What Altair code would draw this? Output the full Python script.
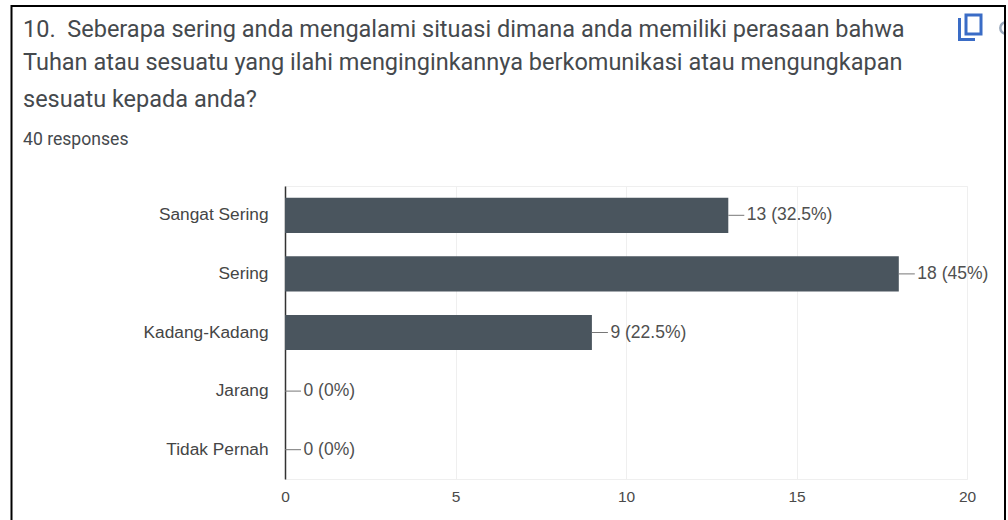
import altair as alt
import pandas as pd

categories = ["Sangat Sering", "Sering", "Kadang-Kadang", "Jarang", "Tidak Pernah"]
counts = [13, 18, 9, 0, 0]
value_labels = ["13 (32.5%)", "18 (45%)", "9 (22.5%)", "0 (0%)", "0 (0%)"]
x_ticks = [0, 5, 10, 15, 20]
question_lines = [
    "10.\u00a0 Seberapa sering anda mengalami situasi dimana anda memiliki perasaan bahwa",
    "Tuhan atau sesuatu yang ilahi menginginkannya berkomunikasi atau mengungkapan",
    "sesuatu kepada anda?",
]
question_baselines = [37, 70, 107]
response_note = "40 responses"

# Page-level offsets relative to the plot area
LEFT, TOP, W, H = 285, 186, 682, 293

df = pd.DataFrame({"cat": categories, "count": counts, "label": value_labels})

x_enc = alt.X(
    "count:Q",
    scale=alt.Scale(domain=[0, 20], nice=False),
    axis=alt.Axis(
        values=x_ticks, title=None, domain=False, ticks=False, labelPadding=10,
        labelFont="Liberation Sans", labelFontSize=15.5, labelColor="#4a4a4a",
        labelFlush=False, grid=True, gridColor="#efefef", gridWidth=1, format="d",
    ),
)
y_enc = alt.Y(
    "cat:N",
    sort=categories,
    scale=alt.Scale(paddingInner=0.4, paddingOuter=0.2),
    axis=alt.Axis(
        title=None, ticks=False, grid=False, labelPadding=17,
        labelFont="Liberation Sans", labelFontSize=17.3, labelColor="#454545",
        domain=True, domainColor="#333333", domainWidth=1.5,
    ),
)

bars = alt.Chart(df).mark_bar(color="#4a555e").encode(x=x_enc, y=y_enc)

connectors = alt.Chart(df).mark_rule(color="#777777", strokeWidth=1, x2Offset=16).encode(
    x=alt.X("count:Q"), x2=alt.X2("count"), y=alt.Y("cat:N", sort=categories)
)

labels = alt.Chart(df).mark_text(
    align="left", baseline="middle", dx=18.5, font="Liberation Sans", fontSize=17.5, color="#505050"
).encode(x=alt.X("count:Q"), y=alt.Y("cat:N", sort=categories), text="label:N")

one = pd.DataFrame({"k": [0]})


def page_text(text, x, y, size):
    return alt.Chart(one).mark_text(
        align="left", baseline="alphabetic", font="Roboto", fontSize=size,
        color="#45494d", text=text,
    ).encode(x=alt.value(x - LEFT), y=alt.value(y - TOP))


def page_rect(x0, x1, y0, y1, **style):
    return alt.Chart(one).mark_rect(**style).encode(
        x=alt.value(x0 - LEFT), x2=alt.value(x1 - LEFT),
        y=alt.value(y0 - TOP), y2=alt.value(y1 - TOP),
    )


title = [page_text(t, 23, b, 23.5) for t, b in zip(question_lines, question_baselines)]
note = page_text(response_note, 23, 145, 17.6)

# Copy icon: front sheet plus the L-shaped back sheet
icon_blue = "#3a6cc6"
icon = [
    page_rect(966, 981, 15, 34, fill="white", stroke=icon_blue, strokeWidth=3),
    page_rect(958, 961, 18, 41, fill=icon_blue),
    page_rect(958, 975, 38, 41, fill=icon_blue),
]

# Second toolbar icon, cut off by the frame
clipped_icon = alt.Chart(one).mark_point(
    shape="circle", size=130, filled=False, color="#6f84a0", strokeWidth=2.5
).encode(x=alt.value(1006 - LEFT), y=alt.value(28 - TOP))

frame = page_rect(11.5, 1005, 6, 540, fill="transparent", stroke="#000000", strokeWidth=2)
margin = page_rect(1006, 1012, 0, 530, fill="white")

chart = alt.layer(
    bars, connectors, labels, *title, note, *icon, clipped_icon, margin, frame
).properties(
    width=W,
    height=H,
    autosize=alt.AutoSizeParams(type="none"),
    padding={"left": LEFT, "top": TOP, "right": 1008 - LEFT - W, "bottom": 520 - TOP - H},
    background="white",
).configure_view(stroke="#efefef")

chart.save("out.html", embed_options={"renderer": "svg", "actions": False})
